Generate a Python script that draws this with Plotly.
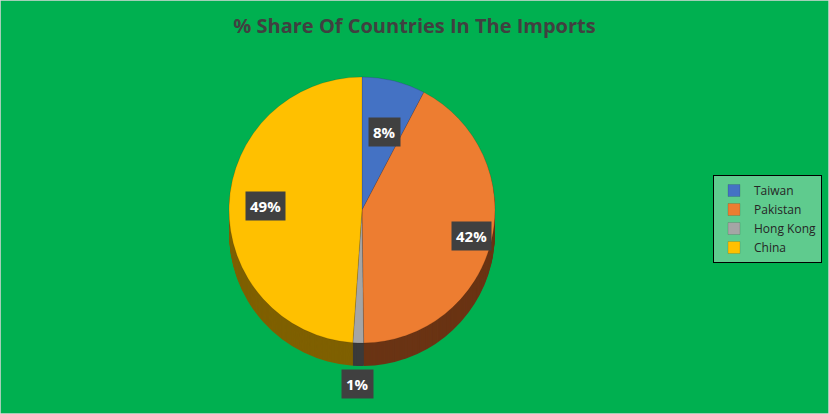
import plotly.graph_objects as go
import math

countries = ["Taiwan", "Pakistan", "Hong Kong", "China"]
shares = [7.7, 42.1, 1.3, 48.9]
top_colors = ["#4472C4", "#ED7D31", "#A5A5A5", "#FFC000"]
side_colors = ["#223A66", "#6A3414", "#3A3A3A", "#7F6000"]

W, H = 829, 414
cx, cy = 362, 210      # pie centre in px
R = 133                # pie radius in px
depth = 23             # extrusion depth in px

def domain(offset):
    y0 = 1 - (cy + offset + R) / H
    y1 = 1 - (cy + offset - R) / H
    x0 = (cx - R) / W
    x1 = (cx + R) / W
    return dict(x=[x0, x1], y=[y0, y1])

fig = go.Figure()
for off in range(depth, 0, -1):
    fig.add_trace(go.Pie(
        labels=countries, values=shares, sort=False, direction="clockwise",
        marker=dict(colors=side_colors, line=dict(width=0)),
        textinfo="none", hoverinfo="skip", showlegend=False,
        domain=domain(off),
    ))
fig.add_trace(go.Pie(
    labels=countries, values=shares, sort=False, direction="clockwise",
    marker=dict(colors=top_colors, line=dict(color="rgba(0,0,0,0.25)", width=0.5)),
    textinfo="none", showlegend=True, domain=domain(0),
))

# data labels
total = sum(shares)
cum = 0
factors = [0.72, 0.85, 1.25, 0.88]
extra = [0, 0, depth, 0]
for name, v, f, e in zip(countries, shares, factors, extra):
    mid = (cum + v / 2) / total * 2 * math.pi
    cum += v
    px = cx + f * R * math.sin(mid)
    py = cy - f * R * math.cos(mid) + e
    fig.add_annotation(
        x=px / W, y=1 - py / H, xref="paper", yref="paper",
        text=f"<b>{round(v / total * 100)}%</b>", showarrow=False,
        font=dict(family="Open Sans", size=15, color="white"),
        bgcolor="#404040", borderpad=4,
    )

fig.update_layout(
    width=W, height=H, autosize=False,
    margin=dict(l=0, r=0, t=0, b=0),
    paper_bgcolor="#00B050", plot_bgcolor="#00B050",
    title=dict(text="<b>% Share Of Countries In The Imports</b>", x=0.5, xanchor="center",
               y=1 - 26 / H, yanchor="middle",
               font=dict(family="Open Sans", size=20, color="#404040")),
    legend=dict(x=822 / W, y=1 - 175 / H, xanchor="right", yanchor="top",
                bgcolor="#5FCB8E", bordercolor="black", borderwidth=1,
                font=dict(family="Open Sans", size=12, color="#262626"),
                itemwidth=30, tracegroupgap=0),
    shapes=[dict(type="rect", xref="paper", yref="paper", x0=0, y0=0, x1=1, y1=1,
                 line=dict(color="#D9D9D9", width=1.5))],
)

fig.write_html("out.html", config={"displayModeBar": False},
               post_script="document.body.style.margin='0';document.body.style.overflow='hidden';")
